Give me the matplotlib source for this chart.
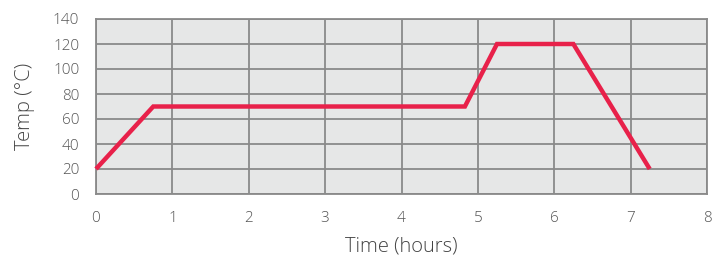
import matplotlib
matplotlib.use("Agg")
import matplotlib.pyplot as plt

time_hours = [0, 0.75, 4.83, 5.25, 6.25, 7.25]
temp_c = [20, 70, 70, 120, 120, 20]
x_ticks = [0, 1, 2, 3, 4, 5, 6, 7, 8]
y_ticks = [0, 20, 40, 60, 80, 100, 120, 140]

plt.rcParams['font.family'] = ['Open Sans', 'DejaVu Sans']

fig = plt.figure(figsize=(7.22, 2.57), dpi=100)
ax = fig.add_axes([96/722, 63/257, 611/722, 175/257])
ax.set_facecolor('#e6e7e7')
grid_c = '#8a8a8a'
ax.set_xlim(0, 8)
ax.set_ylim(0, 140)
ax.set_xticks(x_ticks)
ax.set_yticks(y_ticks)
ax.grid(True, color=grid_c, linewidth=1.3)
ax.set_axisbelow(True)
for s in ax.spines.values():
    s.set_color(grid_c)
    s.set_linewidth(1.3)
ax.tick_params(length=0, labelsize=11, colors='#555555', pad=12)
ax.tick_params(axis='y', pad=12)
for lab in ax.get_xticklabels() + ax.get_yticklabels():
    lab.set_fontweight('light')

ax.plot(time_hours, temp_c, color='#e8214a', linewidth=3.2, solid_capstyle='butt', solid_joinstyle='miter', zorder=3, clip_on=False)

ax.set_xlabel('Time (hours)', fontsize=14.5, color='#444444', fontweight='light', labelpad=8)
ax.set_ylabel('Temp (°C)', fontsize=14.5, color='#444444', fontweight='light', labelpad=13)

fig.savefig('out.png', dpi=100)
